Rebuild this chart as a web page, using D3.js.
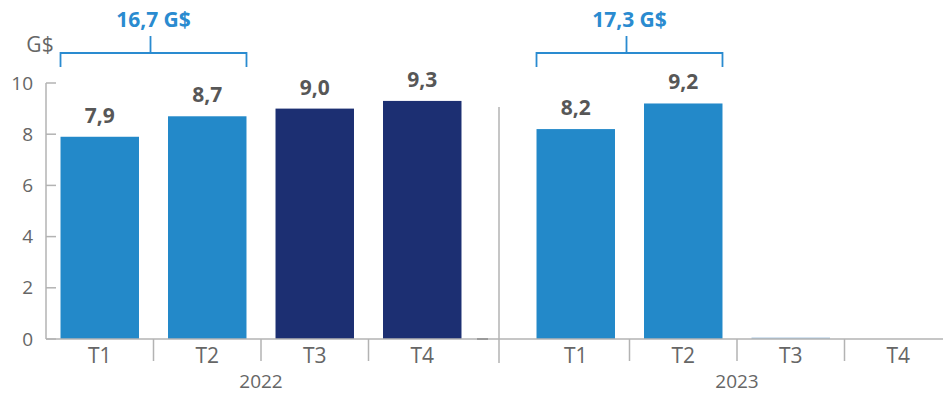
<!DOCTYPE html>
<html>
<head>
<meta charset="utf-8">
<script src="https://cdn.jsdelivr.net/npm/d3@7"></script>
<style>
  html, body { margin: 0; padding: 0; background: #fff; }
  svg { display: block; font-family: "Open Sans", "Noto Sans", sans-serif; }
</style>
</head>
<body>
<svg id="chart" width="943" height="395"></svg>
<script>
// ---- data ----
const years = ["2022", "2023"];
const quarters = ["T1", "T2", "T3", "T4"];
const values2022 = [7.9, 8.7, 9.0, 9.3];
const values2023 = [8.2, 9.2, 0, null];
const darkQuarters2022 = ["T3", "T4"];
const yTicks = [0, 2, 4, 6, 8, 10];
const totalLabels = ["16,7 G$", "17,3 G$"];
const bracketQuarters = ["T1", "T2"];
const unitLabel = "G$";

const valuesByYear = { "2022": values2022, "2023": values2023 };

// ---- layout ----
const W = 943, H = 395;
const margin = { left: 46, top: 83, bottom: 56 };
const plotBottom = 339;
const lightBlue = "#2389c9";
const navy = "#1c2f72";
const axisGray = "#b3b3b3";
const textGray = "#666666";
const labelGray = "#575757";

const svg = d3.select("#chart");

const y = d3.scaleLinear().domain([0, 10]).range([plotBottom, margin.top]);

const xYear = d3.scaleBand().domain(years).range([margin.left, 952])
  .paddingInner(46 / 476).paddingOuter(0);
const xQ = d3.scaleBand().domain(quarters).range([0, xYear.bandwidth()])
  .paddingInner(0.27).paddingOuter(0.135);
const slot = xQ.step();

// ---- y axis ----
const yAxisG = svg.append("g").attr("transform", `translate(${margin.left},0)`);
yAxisG.append("line").attr("x1", 0).attr("x2", 0)
  .attr("y1", y(10)).attr("y2", y(0)).attr("stroke", axisGray).attr("stroke-width", 1.5);
yAxisG.selectAll("line.tick").data(yTicks).enter().append("line")
  .attr("class", "tick")
  .attr("x1", 0).attr("x2", 10)
  .attr("y1", d => y(d)).attr("y2", d => y(d))
  .attr("stroke", axisGray).attr("stroke-width", 1.5);
yAxisG.selectAll("text").data(yTicks).enter().append("text")
  .attr("x", -13).attr("y", d => y(d))
  .attr("dy", "0.35em")
  .attr("text-anchor", "end")
  .attr("font-size", 19).attr("fill", textGray)
  .text(d => d);

svg.append("text").attr("x", 40).attr("y", 52)
  .attr("text-anchor", "middle").attr("font-size", 21).attr("fill", textGray)
  .text(unitLabel);

// ---- bars ----
const fmt = v => d3.format(".1f")(v).replace(".", ",");

years.forEach((yr, yi) => {
  const g = svg.append("g").attr("transform", `translate(${xYear(yr)},0)`);
  const rows = quarters.map((q, i) => ({ q, v: valuesByYear[yr][i] }));

  // zero-value placeholder lines
  g.selectAll("rect.zero").data(rows.filter(d => d.v === 0)).enter().append("rect")
    .attr("x", d => xQ(d.q)).attr("width", xQ.bandwidth())
    .attr("y", y(0) - 1.5).attr("height", 1.5)
    .attr("fill", "#a9c6df");

  const bars = rows.filter(d => d.v != null && d.v > 0);
  g.selectAll("rect.bar").data(bars).enter().append("rect")
    .attr("class", "bar")
    .attr("x", d => xQ(d.q)).attr("width", xQ.bandwidth())
    .attr("y", d => y(d.v)).attr("height", d => y(0) - y(d.v))
    .attr("fill", d => (yr === "2022" && darkQuarters2022.includes(d.q)) ? navy : lightBlue);

  g.selectAll("text.val").data(bars).enter().append("text")
    .attr("x", d => xQ(d.q) + xQ.bandwidth() / 2)
    .attr("y", d => y(d.v) - 14)
    .attr("text-anchor", "middle").attr("font-size", 21).attr("font-weight", 700)
    .attr("fill", labelGray)
    .text(d => fmt(d.v));

  // quarter labels
  g.selectAll("text.q").data(quarters).enter().append("text")
    .attr("x", d => xQ(d) + xQ.bandwidth() / 2)
    .attr("y", 363)
    .attr("text-anchor", "middle").attr("font-size", 21).attr("fill", textGray)
    .text(d => d);

  // separators between quarters
  g.selectAll("line.sep").data(quarters.slice(1)).enter().append("line")
    .attr("x1", d => xQ(d) - (slot - xQ.bandwidth()) / 2)
    .attr("x2", d => xQ(d) - (slot - xQ.bandwidth()) / 2)
    .attr("y1", y(0)).attr("y2", 361)
    .attr("stroke", axisGray).attr("stroke-width", 1.5);

  // year label
  g.append("text").attr("x", xYear.bandwidth() / 2).attr("y", 388)
    .attr("text-anchor", "middle").attr("font-size", 19).attr("fill", textGray)
    .text(yr);

  // bracket with total
  const bx1 = xQ(bracketQuarters[0]);
  const bx2 = xQ(bracketQuarters[1]) + xQ.bandwidth();
  const bmid = (bx1 + bx2) / 2;
  g.append("path")
    .attr("d", `M${bx1},67 V53 H${bx2} V67 M${bmid - 3},53 V36`)
    .attr("fill", "none").attr("stroke", "#2a8bd0").attr("stroke-width", 1.8);
  g.append("text").attr("x", bmid).attr("y", 27)
    .attr("text-anchor", "middle").attr("font-size", 21).attr("font-weight", 700)
    .attr("fill", "#2a8bd0")
    .text(totalLabels[yi]);
});

// ---- x axis baseline ----
svg.append("line").attr("x1", margin.left).attr("x2", W)
  .attr("y1", y(0)).attr("y2", y(0))
  .attr("stroke", axisGray).attr("stroke-width", 1.5);

// small stub at end of 2022 group
const endOf2022 = xYear("2022") + xYear.bandwidth();
svg.append("line").attr("x1", endOf2022 + 1).attr("x2", endOf2022 + 12)
  .attr("y1", y(0)).attr("y2", y(0))
  .attr("stroke", "#9a9a9a").attr("stroke-width", 2);

// year separator
const sepX = (endOf2022 + xYear("2023")) / 2;
svg.append("line").attr("x1", sepX).attr("x2", sepX)
  .attr("y1", 107).attr("y2", 363)
  .attr("stroke", axisGray).attr("stroke-width", 1.5);
</script>
</body>
</html>
